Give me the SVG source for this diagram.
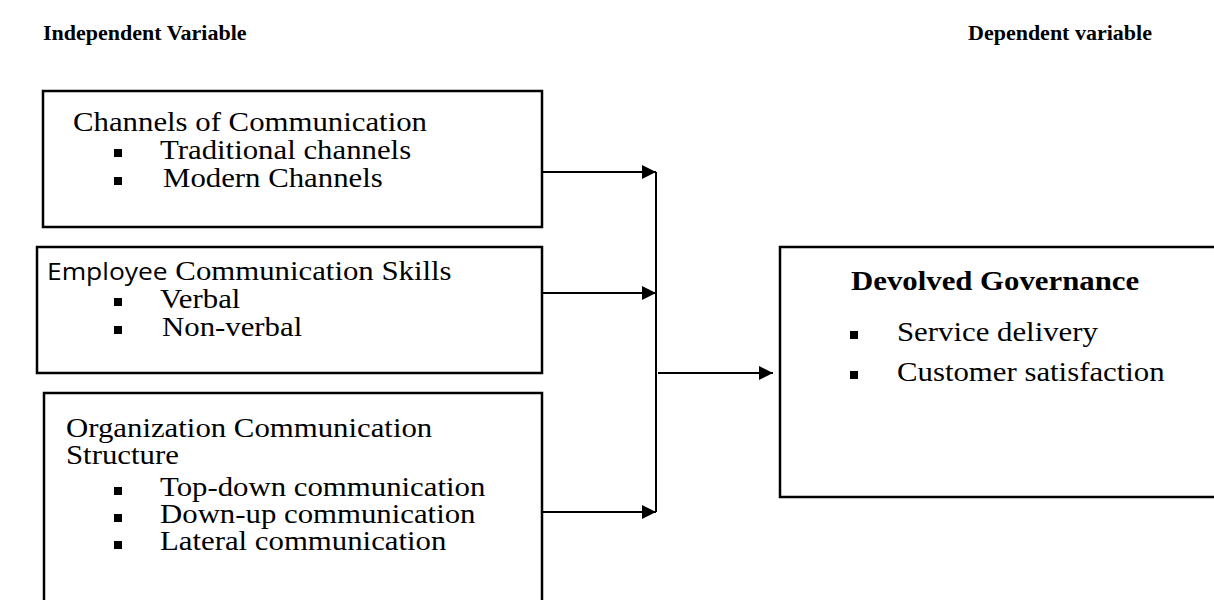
<svg xmlns="http://www.w3.org/2000/svg" width="1214" height="600" viewBox="0 0 1214 600">
  <style>
    .t { font-family: "Liberation Serif", "Times New Roman", serif; font-size: 28px; fill: #000; }
    .h { font-family: "Liberation Serif", "Times New Roman", serif; font-size: 22px; font-weight: bold; fill: #000; }
    .hb { font-family: "Liberation Serif", "Times New Roman", serif; font-size: 28px; font-weight: bold; fill: #000; }
    .sans { font-family: "Open Sans", "DejaVu Sans", sans-serif; font-size: 24px; }
    .box { fill: #fff; stroke: #000; stroke-width: 2.5; }
    .bul { fill: #000; }
    .wire { stroke: #000; stroke-width: 2; fill: none; }
  </style>
  <defs>
    <marker id="arrow" markerWidth="14" markerHeight="14" refX="14" refY="7" orient="auto" markerUnits="userSpaceOnUse">
      <path d="M0,0 L14,7 L0,14 Z" fill="#000"/>
    </marker>
    <rect id="sq" width="8" height="8" class="bul"/>
  </defs>

  <rect width="1214" height="600" fill="#fff"/>

  <!-- Column headings -->
  <text class="h" x="43" y="40">Independent Variable</text>
  <text class="h" x="968" y="40">Dependent variable</text>

  <!-- Independent variable 1 -->
  <g id="channels">
    <rect class="box" x="43" y="91" width="499" height="136"/>
    <text class="t" transform="translate(73,131) scale(1.1,1)">Channels of Communication</text>
    <use href="#sq" x="114" y="149"/>
    <text class="t" transform="translate(160,159) scale(1.1,1)">Traditional channels</text>
    <use href="#sq" x="114" y="177"/>
    <text class="t" transform="translate(163,187) scale(1.1,1)">Modern Channels</text>
  </g>

  <!-- Independent variable 2 -->
  <g id="skills">
    <rect class="box" x="37" y="247" width="505" height="126"/>
    <text class="t" transform="translate(47,280) scale(1.1,1)"><tspan class="sans">Employee</tspan> Communication Skills</text>
    <use href="#sq" x="114" y="298"/>
    <text class="t" transform="translate(160,308) scale(1.1,1)">Verbal</text>
    <use href="#sq" x="114" y="326"/>
    <text class="t" transform="translate(162,336) scale(1.1,1)">Non-verbal</text>
  </g>

  <!-- Independent variable 3 -->
  <g id="structure">
    <rect class="box" x="44" y="393" width="498" height="220"/>
    <text class="t" transform="translate(66,437) scale(1.1,1)">Organization Communication</text>
    <text class="t" transform="translate(66,464) scale(1.1,1)">Structure</text>
    <use href="#sq" x="114" y="487"/>
    <text class="t" transform="translate(160,496) scale(1.1,1)">Top-down communication</text>
    <use href="#sq" x="114" y="514"/>
    <text class="t" transform="translate(160,523) scale(1.1,1)">Down-up communication</text>
    <use href="#sq" x="114" y="541"/>
    <text class="t" transform="translate(160,550) scale(1.1,1)">Lateral communication</text>
  </g>

  <!-- Dependent variable -->
  <g id="governance">
    <rect class="box" x="780" y="247" width="440" height="250"/>
    <text class="hb" transform="translate(851,290) scale(1.1,1)">Devolved Governance</text>
    <use href="#sq" x="850" y="331"/>
    <text class="t" transform="translate(897,341) scale(1.1,1)">Service delivery</text>
    <use href="#sq" x="850" y="371"/>
    <text class="t" transform="translate(897,381) scale(1.1,1)">Customer satisfaction</text>
  </g>

  <!-- Connectors -->
  <g id="connectors">
    <line class="wire" x1="543" y1="172" x2="656" y2="172" marker-end="url(#arrow)"/>
    <line class="wire" x1="543" y1="293" x2="656" y2="293" marker-end="url(#arrow)"/>
    <line class="wire" x1="543" y1="512" x2="656" y2="512" marker-end="url(#arrow)"/>
    <line class="wire" x1="656" y1="172" x2="656" y2="512"/>
    <line class="wire" x1="658" y1="373" x2="773" y2="373" marker-end="url(#arrow)"/>
  </g>
</svg>
